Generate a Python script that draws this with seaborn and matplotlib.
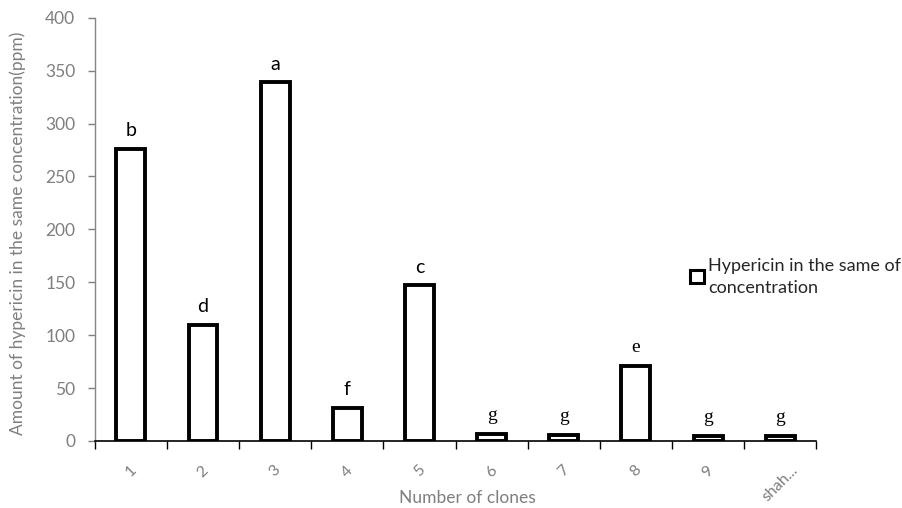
import matplotlib
matplotlib.use("Agg")
import matplotlib.pyplot as plt
import seaborn as sns
import pandas as pd
import numpy as np

# Hypericin content per clone
clones = ["1", "2", "3", "4", "5", "6", "7", "8", "9", "shah..."]
hypericin = [276, 110, 339, 31, 147, 7, 6, 71, 5, 5]
letters = ["b", "d", "a", "f", "c", "g", "g", "e", "g", "g"]
serif_letters = {"g", "e"}

sns.set_theme(style="white")
plt.rcParams["font.family"] = ["Lato", "DejaVu Sans"]

df = pd.DataFrame({"clone": clones, "value": hypericin})

fig = plt.figure(figsize=(9.02, 5.08), dpi=100)
ax = fig.add_axes([0.105, 0.132, 0.800, 0.833])

sns.barplot(data=df, x="clone", y="value", order=clones, ax=ax,
            color="white", edgecolor="black", linewidth=2.8, width=0.4,
            label="Hypericin in the same of\nconcentration")

for i, (v, t) in enumerate(zip(hypericin, letters)):
    fam = ["Liberation Serif"] if t in serif_letters else ["Lato", "DejaVu Sans"]
    ax.annotate(t, (i, v), xytext=(0, 7), textcoords="offset points",
                ha="center", va="bottom", fontsize=14, color="black",
                family=fam)

grey = "#7f7f7f"
ax.set_ylim(0, 400)
ax.set_xlim(-0.5, len(clones) - 0.5)
ax.set_yticks(np.arange(0, 401, 50))
ax.tick_params(axis="y", colors=grey, labelsize=12.5, length=5, width=1,
               direction="out", left=True, pad=9)

# category boundaries carry the tick marks, labels sit at bar centres
ax.set_xticks(np.arange(-0.5, len(clones), 1.0), minor=True)
ax.tick_params(axis="x", which="minor", length=6, width=1, color="black",
               direction="out", bottom=True)
ax.tick_params(axis="x", which="major", length=0, pad=16, labelsize=11.5,
               labelcolor=grey)
plt.setp(ax.get_xticklabels(), rotation=45, ha="center", va="top")

for side in ("top", "right"):
    ax.spines[side].set_visible(False)
ax.spines["left"].set_color("#868686")
ax.spines["left"].set_linewidth(1)
ax.spines["bottom"].set_color("black")
ax.spines["bottom"].set_linewidth(1.2)

ax.set_xlabel("Number of clones", color=grey, fontsize=12.5)
ax.xaxis.set_label_coords(0.516, -0.135)
ax.xaxis.label.set_verticalalignment("center")
ax.set_ylabel("Amount of hypericin in the same concentration(ppm)",
              color=grey, fontsize=12.5)
ax.yaxis.set_label_coords(-0.107, 0.49)
ax.yaxis.label.set_verticalalignment("center")

leg = ax.legend(loc="upper left", bbox_to_anchor=(0.815, 0.45),
                frameon=False, fontsize=13, handlelength=0.75,
                handleheight=0.75, handletextpad=0.25, borderaxespad=0)
for h in leg.legend_handles:
    h.set_linewidth(2.2)
for txt in leg.get_texts():
    txt.set_linespacing(1.45)

fig.savefig("out.png", dpi=100)
